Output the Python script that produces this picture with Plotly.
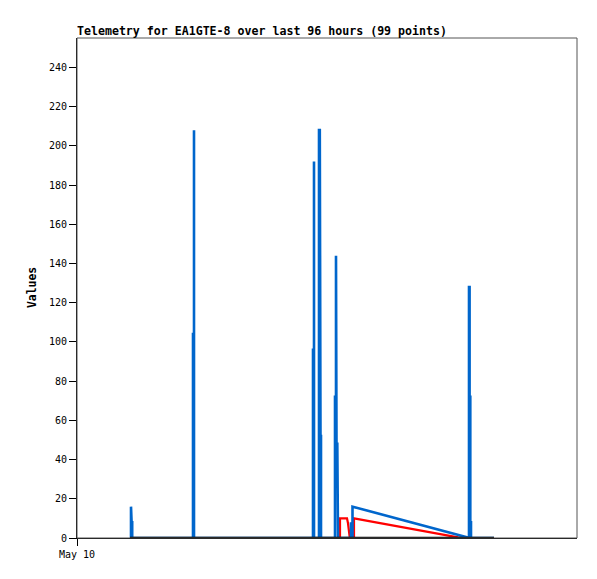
import plotly.graph_objects as go

# time in hours since May 10 00:00 (x axis)
blue_t = [10.8, 10.8, 10.92, 10.92, 11.04, 11.04,
          23.2, 23.2, 23.4, 23.4, 23.4,
          47.2, 47.2, 47.4, 47.4, 47.4,
          48.4, 48.4, 48.56, 48.56, 48.7, 48.7, 48.8, 48.8,
          51.6, 51.6, 51.8, 51.8, 51.9, 51.9, 52.06, 52.06, 52.2, 52.2,
          54.8, 54.8, 54.9, 54.9, 55.1, 55.1,
          77.8, 78.2, 78.4, 78.4, 78.52, 78.52, 78.66, 78.66, 78.8, 78.8, 83.4]
blue_v = [0, 16, 16, 8, 8, 0,
          0, 104, 104, 208, 0,
          0, 96, 96, 192, 0,
          0, 208, 208, 156, 156, 52, 52, 0,
          0, 72, 72, 144, 144, 48, 48, 24, 24, 0,
          0, 8, 8, 0, 0, 16,
          0.5, 0, 0, 128, 128, 72, 72, 8, 8, 0, 0]

red_t = [10.6, 52.6, 52.6, 54.0, 54.2, 54.4, 54.56, 55.4, 55.4, 76.2, 78.6, 83.4]
red_v = [0, 0, 10, 10, 7.5, 2, 0, 0, 10, 0.3, 0, 0]

black_t = [10.6, 83.4]
black_v = [0, 0]

y_ticks = [0, 20, 40, 60, 80, 100, 120, 140, 160, 180, 200, 220, 240]
x_tick_vals = [0]
x_tick_text = ["May 10"]

title_text = "Telemetry for EA1GTE-8 over last 96 hours (99 points)"
y_title = "Values"

MONO = "DejaVu Sans Mono"
W, H = 589, 571  # page body has an 8px margin

fig = go.Figure()
fig.add_trace(go.Scatter(x=red_t, y=red_v, mode="lines",
                         line=dict(color="#ff0000", width=2.2), hoverinfo="skip"))
fig.add_trace(go.Scatter(x=blue_t, y=blue_v, mode="lines",
                         line=dict(color="#0066cc", width=2.6), hoverinfo="skip"))
fig.add_trace(go.Scatter(x=black_t, y=black_v, mode="lines",
                         line=dict(color="#000000", width=2.5), hoverinfo="skip"))

fig.update_layout(
    width=W, height=H,
    margin=dict(l=69, r=20, t=30, b=41),
    paper_bgcolor="white", plot_bgcolor="white",
    showlegend=False,
    title=dict(text="<b>" + title_text + "</b>", x=0, xref="paper", xanchor="left",
               y=1 - 23 / H, yref="container", yanchor="middle",
               font=dict(family=MONO, size=11.6, color="black")),
    xaxis=dict(range=[0, 100], tickvals=x_tick_vals, ticktext=x_tick_text,
               ticks="outside", ticklen=7, tickcolor="black", showgrid=False,
               zeroline=False, showline=True, linecolor="black", linewidth=1,
               tickfont=dict(family=MONO, size=10, color="black")),
    yaxis=dict(range=[0, 255], tickvals=y_ticks, ticks="outside", ticklen=7,
               tickcolor="black", showgrid=False, zeroline=False, showline=True,
               linecolor="black", linewidth=1,
               tickfont=dict(family=MONO, size=10, color="black")),
    shapes=[dict(type="rect", xref="paper", yref="paper", x0=0, x1=1, y0=0, y1=1,
                 line=dict(color="#555555", width=1), layer="above")],
    annotations=[dict(text="<b>" + y_title + "</b>", xref="paper", yref="paper",
                      x=-0.09, y=0.5, xanchor="center", yanchor="middle",
                      textangle=-90, showarrow=False,
                      font=dict(family=MONO, size=11.4, color="black"))],
)

fig.write_html("out.html")
